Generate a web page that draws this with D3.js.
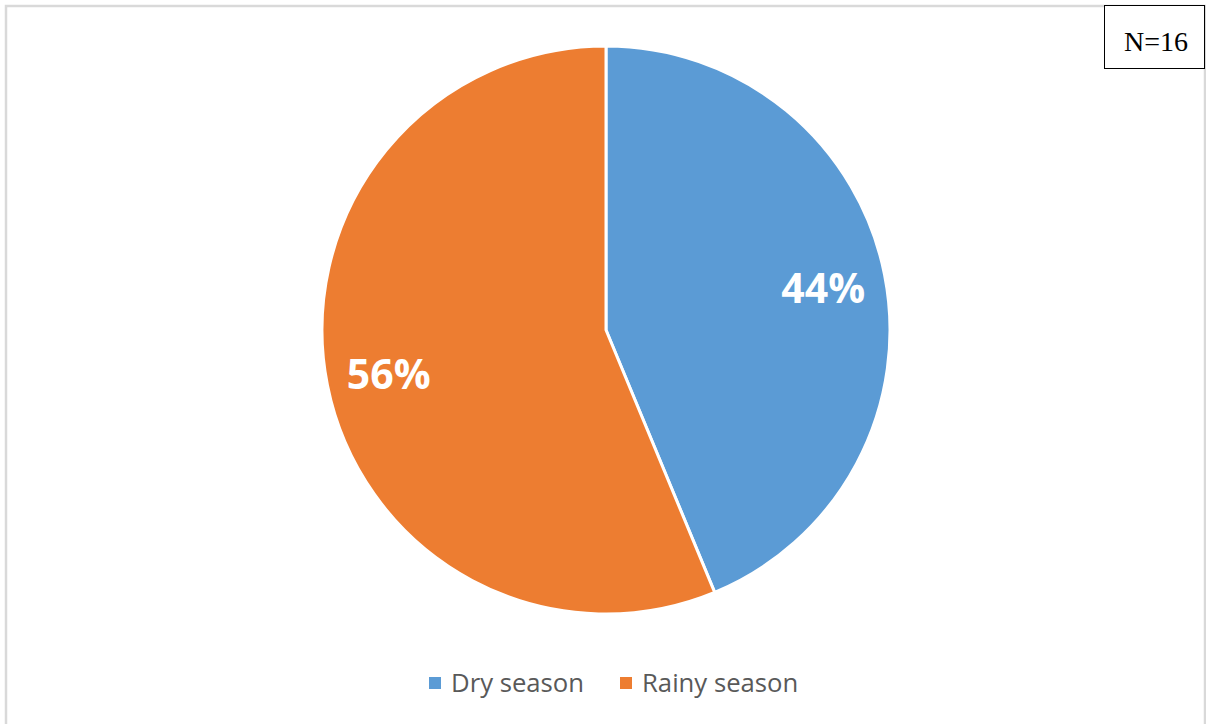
<!DOCTYPE html>
<html>
<head>
<meta charset="utf-8">
<script src="https://cdn.jsdelivr.net/npm/d3@7"></script>
<style>
  html, body { margin: 0; padding: 0; background: #fff; }
  svg { display: block; }
</style>
</head>
<body>
<svg id="chart" width="1206" height="724"></svg>
<script>
// Season of occurrence (counts, N = 16)
const categories = ["Dry season", "Rainy season"];
const counts = [7, 9];
const sampleLabel = "N=16";
const colors = ["#5B9BD5", "#ED7D31"];

const W = 1206, H = 724;
const cx = 606, cy = 330, radius = 284;

const svg = d3.select("#chart");

// chart area frame
svg.append("path")
  .attr("d", `M6,${H} V6 H1205 V${H}`)
  .attr("fill", "none")
  .attr("stroke", "#d9d9d9")
  .attr("stroke-width", 2.5);

const total = d3.sum(counts);
const data = categories.map((c, i) => ({ name: c, value: counts[i] }));

const pie = d3.pie().value(d => d.value).sort(null);
const arc = d3.arc().innerRadius(0).outerRadius(radius);
const labelArc = d3.arc().innerRadius(radius * 0.78).outerRadius(radius * 0.78);
const color = d3.scaleOrdinal().domain(categories).range(colors);

const g = svg.append("g").attr("transform", `translate(${cx},${cy})`);
const arcs = pie(data);

g.selectAll("path.slice")
  .data(arcs)
  .join("path")
  .attr("class", "slice")
  .attr("d", arc)
  .attr("fill", d => color(d.data.name))
  .attr("stroke", "#fff")
  .attr("stroke-width", 3)
  .attr("stroke-linejoin", "round");

g.selectAll("text.pct")
  .data(arcs)
  .join("text")
  .attr("class", "pct")
  .attr("transform", d => `translate(${labelArc.centroid(d)})`)
  .attr("text-anchor", "middle")
  .attr("dominant-baseline", "central")
  .attr("fill", "#fff")
  .attr("font-family", "'Open Sans', sans-serif")
  .attr("font-weight", "bold")
  .attr("font-size", 41)
  .text(d => Math.round(d.data.value / total * 100) + "%");

// legend
const legendItems = [
  { x: 429, textX: 451 },
  { x: 620, textX: 642 }
];
const legend = svg.append("g");
data.forEach((d, i) => {
  legend.append("rect")
    .attr("x", legendItems[i].x)
    .attr("y", 677)
    .attr("width", 12)
    .attr("height", 12)
    .attr("fill", color(d.name));
  legend.append("text")
    .attr("x", legendItems[i].textX)
    .attr("y", 692)
    .attr("fill", "#595959")
    .attr("font-family", "'Open Sans', sans-serif")
    .attr("font-size", 25.7)
    .text(d.name);
});

// sample size box
svg.append("rect")
  .attr("x", 1104.5)
  .attr("y", 5.5)
  .attr("width", 100)
  .attr("height", 63)
  .attr("fill", "#fff")
  .attr("stroke", "#000")
  .attr("stroke-width", 1);
svg.append("text")
  .attr("x", 1156)
  .attr("y", 51)
  .attr("text-anchor", "middle")
  .attr("font-family", "'Liberation Serif', 'Times New Roman', serif")
  .attr("font-size", 28)
  .attr("fill", "#000")
  .text(sampleLabel);
</script>
</body>
</html>
